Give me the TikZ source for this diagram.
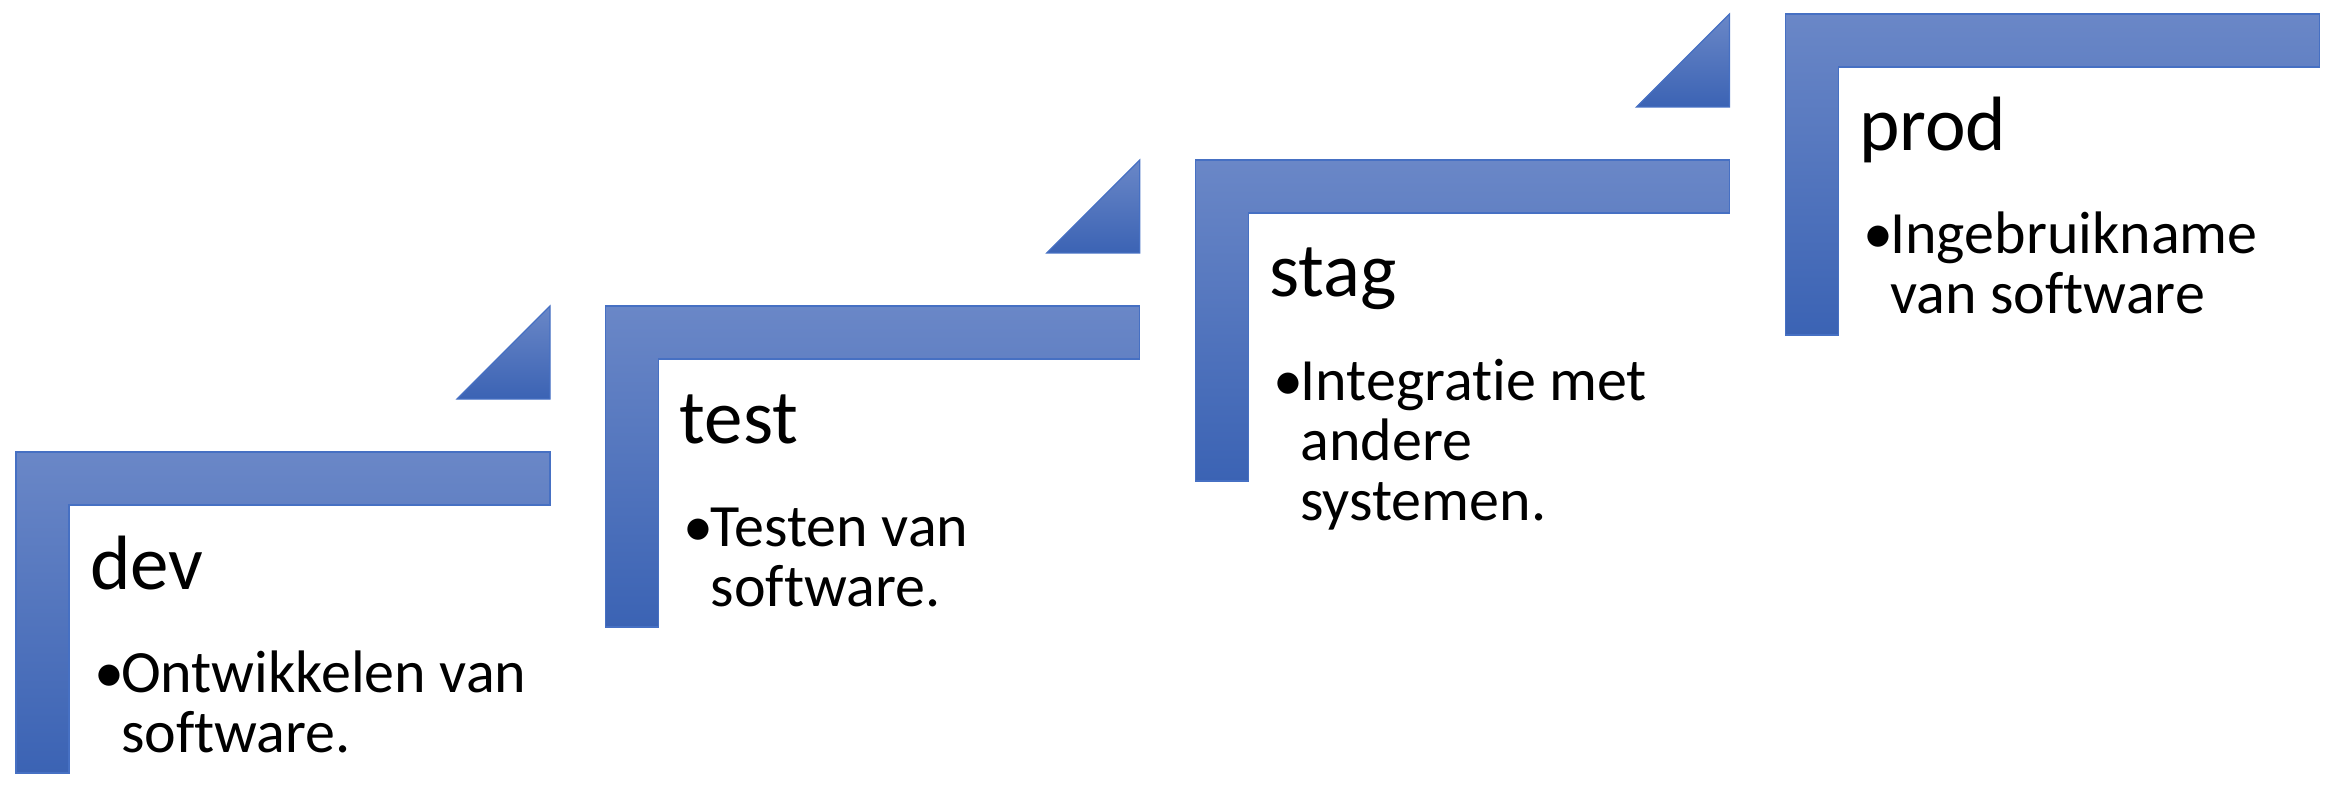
\documentclass[tikz,border=0pt]{standalone}
\usepackage{fontspec}
\setmainfont[Ligatures={NoCommon,NoContextual}]{Carlito}
\definecolor{gtop}{RGB}{106,135,199}
\definecolor{gbot}{RGB}{59,99,180}
\definecolor{gline}{RGB}{70,112,195}
\begin{document}
\begin{tikzpicture}[x=1pt,y=-1pt,
  shapestyle/.style={top color=gtop,bottom color=gbot,draw=gline,line width=1.2pt},
  titletext/.style={anchor=base west,inner sep=0pt,font=\fontsize{77}{90}\selectfont},
  bodytext/.style={anchor=base west,inner sep=0pt,font=\fontsize{60}{60}\selectfont},
  bullettext/.style={anchor=base west,inner sep=0pt,font=\fontsize{60}{60}\selectfont}]
\useasboundingbox (0,0) rectangle (2330,786);
% L-shaped steps
\foreach \i in {0,1,2,3}{
  \pgfmathsetmacro{\lx}{16+589.7*\i}
  \pgfmathsetmacro{\ly}{452-146*\i}
  \shade[shapestyle] (\lx,\ly) -- ({\lx+534},\ly) -- ({\lx+534},{\ly+53}) -- ({\lx+53},{\ly+53})
     -- ({\lx+53},{\ly+321}) -- (\lx,{\ly+321}) -- cycle;
}
% triangles
\foreach \i in {0,1,2}{
  \pgfmathsetmacro{\rx}{550+589.7*\i}
  \pgfmathsetmacro{\ty}{306-146*\i}
  \shade[shapestyle] (\rx,\ty) -- (\rx,{\ty+93}) -- ({\rx-93},{\ty+93}) -- cycle;
}
% dev
\node[titletext] (devt) at (90,589) {dev};
\node[bullettext] (devb) at (94,692) {•};
\node[bodytext] (dev1) at (121,692) {Ontwikkelen van};
\node[bodytext] (dev2) at (121,752) {software.};
% test
\node[titletext] (testt) at (679.7,443) {test};
\node[bullettext] (testb) at (683.7,546) {•};
\node[bodytext] (test1) at (710.7,546) {Testen van};
\node[bodytext] (test2) at (710.7,606) {software.};
% stag
\node[titletext] (stagt) at (1269.4,297) {stag};
\node[bullettext] (stagb) at (1273.4,400) {•};
\node[bodytext] (stag1) at (1300.4,400) {Integratie met};
\node[bodytext] (stag2) at (1300.4,460) {andere};
\node[bodytext] (stag3) at (1300.4,520) {systemen.};
% prod
\node[titletext] (prodt) at (1859.1,151) {prod};
\node[bullettext] (prodb) at (1863.1,254) {•};
\node[bodytext] (prod1) at (1890.1,254) {Ingebruikname};
\node[bodytext] (prod2) at (1890.1,314) {van software};
\end{tikzpicture}
\end{document}
